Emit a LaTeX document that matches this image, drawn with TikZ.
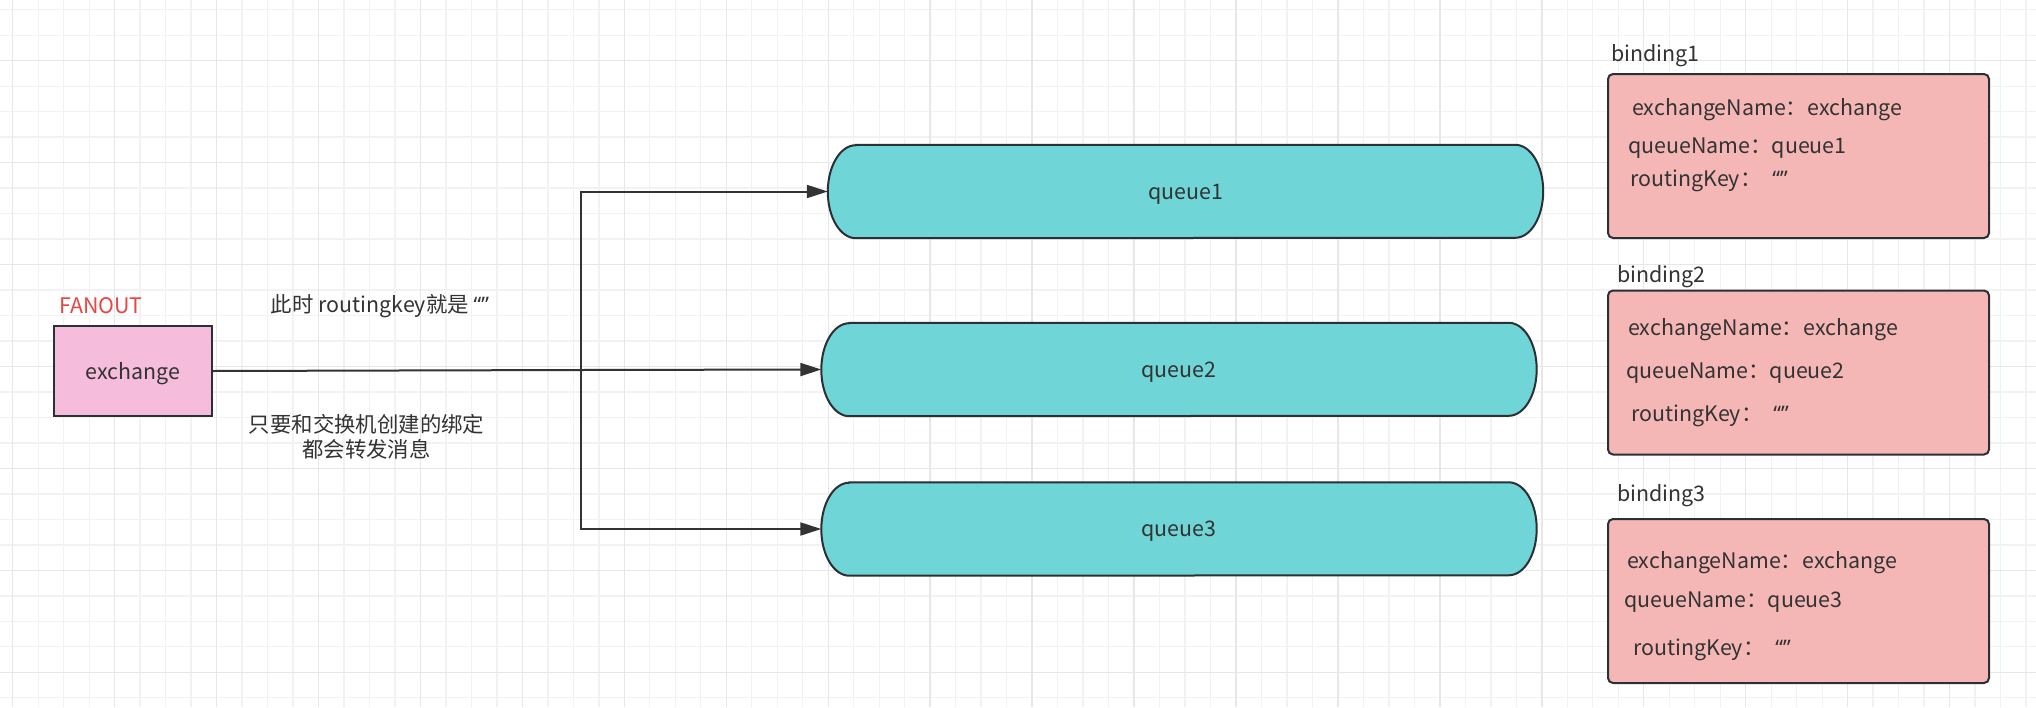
\documentclass[tikz,border=0pt]{standalone}
\usepackage{fontspec}
\setmainfont{Noto Sans CJK SC}
\newfontfamily\latinfont{Noto Sans}
\usetikzlibrary{arrows.meta}
\definecolor{gridminor}{HTML}{F2F2F2}
\definecolor{gridmajor}{HTML}{E7E7E7}
\definecolor{edgecol}{HTML}{333333}
\definecolor{bordercol}{HTML}{2B2F36}
\definecolor{queuefill}{HTML}{6FD5D6}
\definecolor{bindfill}{HTML}{F4B7B6}
\definecolor{exfill}{HTML}{F5BCDC}
\definecolor{txtcol}{HTML}{333333}
\definecolor{fanred}{HTML}{E84545}
\newcommand{\dquotes}{{\latinfont “”}}
\begin{document}
\begin{tikzpicture}[x=1pt,y=-1pt,
  lbl/.style={font=\fontsize{21.4pt}{25pt}\selectfont, text=txtcol, inner sep=0pt},
  txt/.style={lbl, yshift=-2.5pt},
  exbox/.style={lbl, draw=bordercol, line width=2pt, fill=exfill, minimum width=158pt, minimum height=90pt},
  qbox/.style={lbl, minimum width=715pt, minimum height=93pt},
  qline/.style={draw=bordercol, line width=2pt, fill=queuefill},
  bindbox/.style={draw=bordercol, line width=2pt, fill=bindfill, rounded corners=5pt, minimum width=381pt, minimum height=164pt, inner sep=0pt},
  conn/.style={draw=edgecol, line width=2pt},
  arr/.style={conn, -{Triangle[length=21pt,width=13pt]}},
]
\useasboundingbox[fill=white] (0,0) rectangle (2036,707);
% grid
\foreach \i in {0,...,80} \draw[gridminor, line width=1.3pt] ({12.7+25.485*\i},0) -- ++(0,707);
\foreach \i in {0,...,27} \draw[gridminor, line width=1.3pt] (0,{9.7+25.485*\i}) -- ++(2036,0);
\foreach \i in {0,...,20} \draw[gridmajor, line width=1.4pt] ({12.7+25.485*4*\i},0) -- ++(0,707);
\foreach \i in {0,...,6} \draw[gridmajor, line width=1.4pt] (0,{9.7+25.485*(2+4*\i)}) -- ++(2036,0);

% exchange
\node[exbox] (ex) at (132.6,371) {};
\node[txt] (ext) at (ex) {exchange};
\node[txt, text=fanred, anchor=west] (fan) at (59,303) {FANOUT};
\node[txt] (note1) at (380,304) {此时 routingkey就是 \dquotes};
\node[txt, align=center] (note2) at (366.5,434.5) {只要和交换机创建的绑定\\都会转发消息};

% queues
\node[qbox] (q1) at (1185.5,191.5) {};
\node[qbox] (q2) at (1179,369.5) {};
\node[qbox] (q3) at (1179,529) {};
\foreach \q in {q1,q2,q3} {
  \path[qline] ([xshift=28pt]\q.north west) -- ([xshift=-28pt]\q.north east)
    arc[start angle=90, end angle=-90, x radius=28pt, y radius=46.5pt]
    -- ([xshift=28pt]\q.south west)
    arc[start angle=270, end angle=90, x radius=28pt, y radius=46.5pt] -- cycle;
}
\node[txt] (q1t) at (q1) {queue1};
\node[txt] (q2t) at (q2) {queue2};
\node[txt] (q3t) at (q3) {queue3};

% connectors
\coordinate (j) at (581,370);
\draw[conn] (ex.east) -- (j);
\draw[arr] (j) |- (q1.west);
\draw[arr] (j) -- (q2.west);
\draw[arr] (j) |- (q3.west);

% bindings
\node[bindbox] (b1) at (1798.5,156) {};
\node[bindbox] (b2) at (1798.5,372.5) {};
\node[bindbox] (b3) at (1798.5,601) {};
\node[txt, anchor=west] (b1l) at (1611,53) {binding1};
\node[txt, anchor=west] (b2l) at (1617,274) {binding2};
\node[txt, anchor=west] (b3l) at (1617,493) {binding3};

\node[txt, anchor=west] (b1a) at (1632,107) {exchangeName：exchange};
\node[txt, anchor=west] (b1b) at (1628,146) {queueName：queue1};
\node[txt, anchor=west] (b1c) at (1630,178) {routingKey：\hspace{11pt}\dquotes};

\node[txt, anchor=west] (b2a) at (1628,327) {exchangeName：exchange};
\node[txt, anchor=west] (b2b) at (1626,371) {queueName：queue2};
\node[txt, anchor=west] (b2c) at (1631,413) {routingKey：\hspace{11pt}\dquotes};

\node[txt, anchor=west] (b3a) at (1627,560) {exchangeName：exchange};
\node[txt, anchor=west] (b3b) at (1624,600) {queueName：queue3};
\node[txt, anchor=west] (b3c) at (1633,647) {routingKey：\hspace{11pt}\dquotes};
\end{tikzpicture}
\end{document}
